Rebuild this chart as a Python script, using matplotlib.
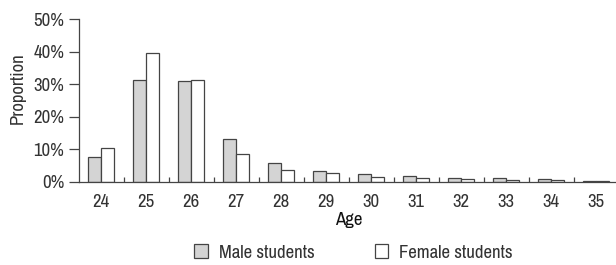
import matplotlib

matplotlib.use("Agg")
import matplotlib.pyplot as plt
import numpy as np
from matplotlib.ticker import FixedLocator, PercentFormatter

ages = ["24", "25", "26", "27", "28", "29", "30", "31", "32", "33", "34", "35"]
male = [7.5, 31.2, 30.8, 13.2, 5.7, 3.3, 2.3, 1.8, 1.2, 1.0, 0.7, 0.3]
female = [10.3, 39.5, 31.3, 8.4, 3.7, 2.6, 1.4, 1.0, 0.7, 0.4, 0.4, 0.3]

TXT = "#333333"
LINE = "#444444"
plt.rcParams["font.family"] = ["Archivo Narrow", "DejaVu Sans"]
plt.rcParams["font.size"] = 13.5

W, H = 616, 265
fig = plt.figure(figsize=(W / 100, H / 100), dpi=100)
ax = fig.add_axes([78.5 / W, 1 - 181.7 / H, 540 / W, 162.7 / H])

x = np.arange(len(ages))
w = 0.29
ax.bar(x - w / 2, male, w, color="#d4d4d4", edgecolor=LINE, lw=0.9, label="Male students")
ax.bar(x + w / 2, female, w, color="white", edgecolor=LINE, lw=0.9, label="Female students")

ax.set_xlim(-0.5, len(ages) - 0.5)
ax.set_ylim(0, 50)
ax.yaxis.set_major_formatter(PercentFormatter(decimals=0))
ax.set_yticks(range(0, 51, 10))
ax.tick_params(axis="y", length=7.2, width=0.9, colors=LINE, labelcolor=TXT, pad=3)

ax.set_xticks(x, ages)
ax.tick_params(axis="x", which="major", length=0, labelcolor=TXT, pad=9)
ax.xaxis.set_minor_locator(FixedLocator(np.arange(0.5, len(ages) - 0.5, 1)))
ax.tick_params(axis="x", which="minor", direction="in", length=3.6, width=0.9, colors=LINE)

for s in ["top", "right"]:
    ax.spines[s].set_visible(False)
for s in ["left", "bottom"]:
    ax.spines[s].set_color(LINE)
    ax.spines[s].set_linewidth(0.9)

ax.set_xlabel("Age", color="#111111", labelpad=1.5)
ax.set_ylabel("Proportion", color=TXT)
ax.yaxis.set_label_coords(-0.0985, 0.573)

fig.legend(loc="center left", bbox_to_anchor=(185 / W, 0.047), ncol=2, frameon=False,
           borderpad=0, handlelength=0.7, handleheight=0.7, columnspacing=3.2,
           handletextpad=0.6, labelcolor=TXT)

fig.savefig("out.png", dpi=100)
